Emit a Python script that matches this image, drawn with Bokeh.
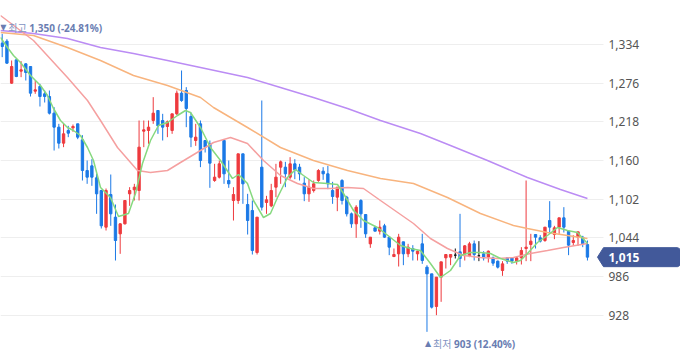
from bokeh.plotting import figure
from bokeh.models import ColumnDataSource, FixedTicker, NumeralTickFormatter, Range1d
from bokeh.embed import file_html
from bokeh.resources import INLINE
from bokeh.core.properties import value

# ---- daily candles ----
opens = [1336, 1339, 1276, 1311, 1294, 1305, 1301, 1264, 1271, 1260,
         1256, 1231, 1210, 1186, 1205, 1209, 1215, 1191, 1145, 1152,
         1134, 1115, 1060, 1109, 1075, 1050, 1065, 1110, 1116, 1115,
         1204, 1205, 1220, 1235, 1220, 1211, 1205, 1230, 1261, 1265,
         1226, 1190, 1215, 1190, 1185, 1130, 1135, 1190, 1130, 1100,
         1100, 1170, 1094, 1085, 1022, 1150, 1097, 1092, 1120, 1150,
         1150, 1135, 1155, 1150, 1126, 1110, 1115, 1130, 1144, 1140,
         1115, 1105, 1130, 1105, 1080, 1065, 1100, 1079, 1035, 1059,
         1054, 1062, 1045, 1016, 1020, 1038, 1020, 1028, 1020, 1035,
         1000, 990, 941, 985, 1014, 1015, 1018, 1023, 1020, 1017,
         1035, 1017, 1020, 1015, 1014, 1009, 995, 1014, 1014, 1009,
         1014, 1028, 1034, 1049, 1044, 1040, 1070, 1049, 1060, 1074,
         1054, 1037, 1045, 1045, 1034]
highs = [1350, 1342, 1310, 1312, 1309, 1306, 1301, 1280, 1275, 1265,
         1265, 1240, 1215, 1215, 1212, 1214, 1215, 1198, 1160, 1162,
         1140, 1116, 1118, 1139, 1094, 1066, 1100, 1120, 1125, 1220,
         1220, 1220, 1255, 1235, 1230, 1220, 1230, 1265, 1295, 1270,
         1232, 1215, 1220, 1190, 1190, 1155, 1160, 1190, 1160, 1120,
         1170, 1170, 1110, 1100, 1075, 1250, 1107, 1125, 1155, 1160,
         1158, 1165, 1162, 1155, 1135, 1132, 1130, 1147, 1150, 1152,
         1128, 1120, 1132, 1107, 1082, 1093, 1102, 1079, 1045, 1062,
         1070, 1065, 1045, 1028, 1050, 1038, 1035, 1033, 1025, 1050,
         1003, 990, 985, 1008, 1019, 1019, 1028, 1080, 1033, 1038,
         1040, 1039, 1024, 1025, 1016, 1010, 1009, 1014, 1014, 1016,
         1030, 1130, 1050, 1049, 1048, 1060, 1099, 1062, 1074, 1090,
         1055, 1048, 1053, 1047, 1040]
lows = [1315, 1305, 1275, 1285, 1285, 1280, 1256, 1260, 1241, 1247,
        1229, 1175, 1178, 1180, 1195, 1203, 1192, 1130, 1125, 1122,
        1080, 1058, 1055, 1062, 1010, 1020, 1064, 1092, 1100, 1100,
        1180, 1185, 1215, 1200, 1190, 1195, 1200, 1228, 1248, 1210,
        1180, 1182, 1150, 1172, 1119, 1128, 1133, 1125, 1119, 1070,
        1095, 1095, 1049, 1019, 1019, 1085, 1080, 1090, 1105, 1125,
        1120, 1132, 1132, 1130, 1099, 1098, 1112, 1128, 1131, 1117,
        1095, 1084, 1094, 1076, 1059, 1044, 1059, 1044, 1029, 1054,
        1049, 1044, 1018, 1015, 1001, 1003, 1015, 1010, 1010, 1005,
        903, 938, 928, 948, 998, 1003, 1013, 1000, 1010, 1015,
        1010, 1009, 1010, 1007, 1002, 998, 987, 1005, 1005, 1004,
        1004, 1009, 1009, 1028, 1037, 1038, 1050, 1042, 1050, 1052,
        1018, 1032, 1032, 1030, 1010]
closes = [1331, 1306, 1301, 1286, 1296, 1292, 1261, 1266, 1256, 1256,
          1231, 1210, 1186, 1200, 1201, 1211, 1195, 1145, 1135, 1135,
          1110, 1062, 1115, 1080, 1040, 1065, 1100, 1115, 1120, 1180,
          1206, 1210, 1231, 1212, 1210, 1218, 1230, 1261, 1250, 1238,
          1195, 1195, 1160, 1180, 1156, 1135, 1155, 1140, 1125, 1109,
          1170, 1125, 1070, 1025, 1075, 1090, 1101, 1115, 1135, 1158,
          1140, 1155, 1146, 1140, 1110, 1120, 1125, 1145, 1140, 1125,
          1106, 1120, 1100, 1080, 1065, 1090, 1080, 1050, 1045, 1054,
          1060, 1045, 1030, 1019, 1045, 1020, 1030, 1024, 1024, 1010,
          990, 940, 985, 1008, 1019, 1019, 1018, 1013, 1032, 1035,
          1019, 1017, 1014, 1024, 1006, 1000, 1005, 1009, 1009, 1014,
          1025, 1030, 1039, 1045, 1039, 1060, 1060, 1059, 1074, 1060,
          1033, 1040, 1053, 1035, 1015]

# ---- moving averages at (candle position, value) ----
ma5_x = [-0.36, 1.12, 2.39, 3.88, 6.0, 8.11, 9.6, 10.87, 12.35, 13.83, 15.1, 16.59,
         18.07, 19.34, 20.83, 22.94, 24.64, 26.76, 28.24, 29.72, 31.42, 33.11, 35.02,
         37.14, 38.83, 39.89, 42.01, 44.13, 46.25, 48.79, 50.06, 51.97, 53.24, 55.36,
         56.84, 58.33, 60.44, 62.14, 63.83, 65.95, 68.92, 71.04, 72.31, 74.43, 76.55,
         79.51, 82.27, 84.39, 86.5, 88.62, 90.74, 92.86, 94.98, 97.1, 99.22, 101.33,
         103.45, 105.57, 108.32, 109.81, 111.29, 113.41, 115.53, 117.65, 119.77, 121.89, 124.0]
ma5_v = [1344.5, 1329.5, 1317.5, 1307, 1287.5, 1272.5, 1257.5, 1238, 1220, 1209.5, 1205, 1197.5,
         1179.5, 1160, 1119.5, 1104.5, 1076, 1080.5, 1110.5, 1155.5, 1190, 1212.5, 1217,
         1227.5, 1235, 1232, 1209.5, 1179.5, 1160, 1133, 1139, 1125.5, 1100, 1074.5,
         1080.5, 1104.5, 1134.5, 1146.5, 1137.5, 1127, 1125.5, 1124, 1110.5, 1085, 1070,
         1059.5, 1044.5, 1032.5, 1028, 1025, 1005.5, 984.5, 995, 1017.5, 1022, 1022,
         1020.5, 1013, 1007, 1010, 1020.5, 1037, 1047.5, 1059.5, 1055, 1052, 1035.5]
ma20_x = [-0.36, 6.63, 13.83, 18.07, 20.83, 24.43, 28.67, 31.42, 35.02, 37.78, 42.01,
          44.77, 48.37, 51.97, 55.36, 58.96, 62.56, 65.95, 69.56, 73.16, 76.55, 80.15,
          87.14, 90.74, 94.34, 97.73, 101.33, 104.93, 108.32, 111.92, 115.53, 118.92, 124.0]
ma20_v = [1377.5, 1340, 1284.5, 1250, 1220, 1179.5, 1145, 1142, 1145, 1157, 1175,
          1187, 1194.5, 1185.5, 1160, 1137.5, 1125.5, 1118, 1118, 1119.5, 1118, 1100,
          1065.5, 1043, 1028, 1017.5, 1014.5, 1013, 1014.5, 1020.5, 1025, 1029.5, 1035.5]
ma60_x = [-0.36, 6.63, 13.83, 20.83, 27.82, 35.02, 42.01, 44.77, 51.97, 58.96, 65.95,
          73.16, 80.15, 87.14, 94.34, 101.33, 108.32, 111.29, 115.53, 124.0]
ma60_v = [1352, 1347.5, 1329.5, 1310, 1287.5, 1272.5, 1254.5, 1239.5, 1209.5, 1179.5, 1160,
          1145, 1133, 1125.5, 1104.5, 1080.5, 1062.5, 1058, 1052, 1043]
ma120_x = [-0.36, 6.63, 13.83, 20.83, 27.82, 35.02, 42.01, 51.97, 58.96, 65.95, 73.16,
           80.15, 88.62, 94.98, 102.82, 111.29, 118.28, 124.0]
ma120_v = [1355, 1350.5, 1343, 1329.5, 1320.5, 1310, 1299.5, 1284.5, 1269.5, 1254.5, 1238,
           1220, 1200.5, 1182.5, 1160, 1134.5, 1116.5, 1103]

y_ticks = [928, 986, 1044, 1102, 1160, 1218, 1276, 1334]

# ---- styling ----
UP, DOWN, FLAT = "#ee3a3e", "#1b79e6", "#111111"
LABEL_BLUE = "#6a7db2"
TAG_BLUE = "#42599a"
W, H = 680, 358
PLOT_W = 603                      # width of the candle area; the price scale sits right of it
X0, X1 = -0.36, 127.4             # x span of the candle area
XR = X0 + (X1 - X0) * W / PLOT_W  # frame spans the whole canvas
Y0, Y1 = 863, 1400

n = len(closes)
idx = list(range(n))
colors = [UP if c > o else DOWN if c < o else FLAT for o, c in zip(opens, closes)]
src = ColumnDataSource(dict(
    x=idx, h=highs, l=lows,
    top=[max(o, c) for o, c in zip(opens, closes)],
    bottom=[min(o, c) for o, c in zip(opens, closes)],
    color=colors))

p = figure(width=W, height=H, output_backend="svg", toolbar_location=None,
           x_range=Range1d(X0, XR), y_range=Range1d(Y0, Y1),
           x_axis_location=None, y_axis_location="right",
           min_border_left=0, min_border_top=0, min_border_bottom=0,
           min_border_right=0)
p.outline_line_color = None
p.background_fill_color = "white"
p.border_fill_color = "white"
p.xgrid.visible = False
p.ygrid.ticker = FixedTicker(ticks=y_ticks)
p.ygrid.grid_line_color = "#eeeeee"
p.ygrid.grid_line_width = 1

ax = p.yaxis[0]
ax.ticker = FixedTicker(ticks=y_ticks)
ax.formatter = NumeralTickFormatter(format="0,0")
ax.axis_line_color = None
ax.major_tick_line_color = None
ax.minor_tick_line_color = None
ax.major_tick_out = 0
ax.major_tick_in = 0
ax.major_label_standoff = -(W - PLOT_W - 5)   # labels drawn over the price-scale strip
ax.major_label_text_font = "Noto Sans"
ax.major_label_text_font_size = "12px"
ax.major_label_text_color = "#555555"

# price-scale strip: blank out grid lines to the right of the candle area
p.quad(left=[X1], right=[XR], bottom=[Y0], top=[Y1], fill_color="white",
       line_color=None)

# candles
p.segment(x0="x", y0="h", x1="x", y1="l", line_color="color", line_width=1, source=src)
p.vbar(x="x", top="top", bottom="bottom", width=0.5, fill_color="color",
       line_color="color", line_width=1, source=src)

# moving averages
p.line(ma120_x, ma120_v, line_color="#bb8cf4", line_width=1.5)
p.line(ma60_x, ma60_v, line_color="#f8b47e", line_width=1.5)
p.line(ma20_x, ma20_v, line_color="#f5a0a0", line_width=1.5)
p.line(ma5_x, ma5_v, line_color="#86d97f", line_width=1.5)

# high / low markers
hi = max(highs); hi_i = highs.index(hi)
lo = min(lows); lo_i = lows.index(lo)
last = closes[-1]
pct_hi = (last - hi) / hi * 100
pct_lo = (last - lo) / lo * 100

def mark(i, v, tri, word, num, yoff):
    p.text(x=[i], y=[v], text=[tri], x_offset=-2, y_offset=yoff,
           text_font=value("DejaVu Sans"), text_font_size="8px",
           text_color=LABEL_BLUE, text_baseline="middle", text_align="left")
    p.text(x=[i], y=[v], text=[word], x_offset=6, y_offset=yoff,
           text_font=value("Noto Sans CJK KR"), text_font_size="10px",
           text_color="#8394c2", text_baseline="middle", text_align="left")
    p.text(x=[i], y=[v], text=[num], x_offset=27, y_offset=yoff,
           text_font=value("Noto Sans"), text_font_size="10px", text_font_style="bold",
           text_color=LABEL_BLUE, text_baseline="middle", text_align="left")

mark(hi_i, hi, "▼", "최고", f"{hi:,} ({pct_hi:.2f}%)", -6)
mark(lo_i, lo, "▲", "최저", f"{lo:,} ({pct_lo:.2f}%)", 12)

# last price tag on the price scale
dx = (X1 - X0) / PLOT_W
dy = (Y1 - Y0) / H
hh = 9.5 * dy
tag_x = [X1 - 6 * dx, X1, XR - 3 * dx, XR - 1 * dx, XR, XR,
         XR - 1 * dx, XR - 3 * dx, X1]
tag_y = [last, last + hh, last + hh, last + hh - 1 * dy, last + hh - 3 * dy,
         last - hh + 3 * dy, last - hh + 1 * dy, last - hh, last - hh]
p.patch(tag_x, tag_y, fill_color=TAG_BLUE, line_color=TAG_BLUE, line_width=1)
p.text(x=[X1], y=[last], text=[f"{last:,}"], x_offset=5,
       text_font=value("Noto Sans"), text_font_style="bold", text_font_size="12px",
       text_color="white", text_baseline="middle", text_align="left")

open("out.html", "w").write(file_html(p, INLINE))
